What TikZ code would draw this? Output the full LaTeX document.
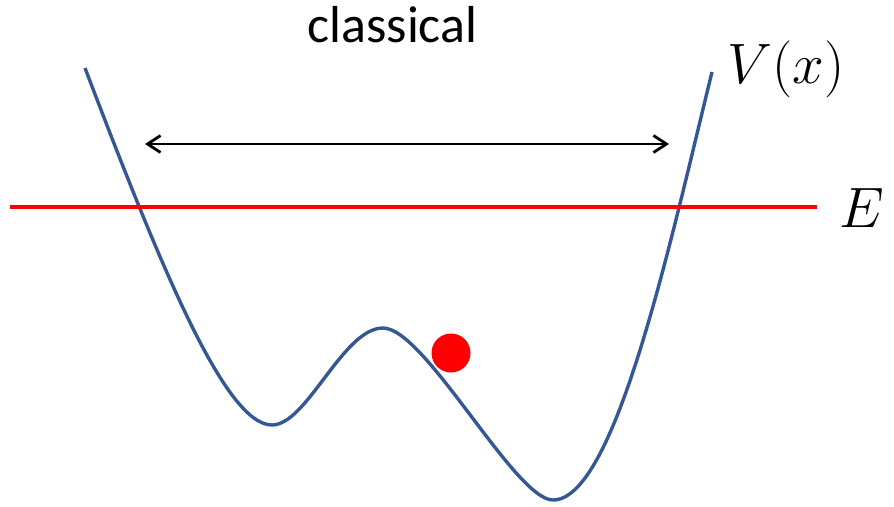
\documentclass[tikz,border=0pt]{standalone}
\usepackage{fontspec}
\newfontfamily\carlito{Carlito}
\usetikzlibrary{arrows.meta}
\definecolor{curveblue}{RGB}{52,88,148}
\tikzset{
  potential/.style={draw=curveblue, line width=3.4pt, line join=round},
  energy/.style={draw=red, line width=3.2pt},
  spanarrow/.style={draw=black, line width=2.8pt, {Straight Barb[length=13pt,width=17pt,line width=2.8pt]}-{Straight Barb[length=13pt,width=17pt,line width=2.8pt]}},
  mathlabel/.style={inner sep=0pt, anchor=base west, font=\Huge, scale=2.29},
}
\begin{document}
\begin{tikzpicture}[x=1pt,y=-1pt]
\useasboundingbox (0,0) rectangle (894,506);
% potential curve
\coordinate (top1) at (85,68);
\coordinate (minL) at (272,425);
\coordinate (maxM) at (383,328);
\coordinate (minR) at (553,500);
\coordinate (top2) at (712,72);
\draw[potential] (top1) .. controls (160,265) and (225,425) .. (minL)
  .. controls (307,425) and (343,328) .. (maxM)
  .. controls (425,328) and (515,500) .. (minR)
  .. controls (615,500) and (670,243) .. (top2);
% energy line
\coordinate (eL) at (10,207);
\coordinate (eR) at (817,207);
\draw[energy] (eL) -- (eR);
% classical range arrow
\coordinate (aL) at (145,144);
\coordinate (aR) at (669,144);
\draw[spanarrow] (aL) -- (aR);
% particle
\fill[red] (451,353) circle[radius=19.5];
% labels
\node[inner sep=0pt, anchor=base, font=\carlito\fontsize{52}{60}\selectfont] (title) at (392.5,42) {classical};
\node[mathlabel] (V) at (727,83) {$V(x)$};
\node[mathlabel] (E) at (839,227) {$E$};
\end{tikzpicture}
\end{document}
